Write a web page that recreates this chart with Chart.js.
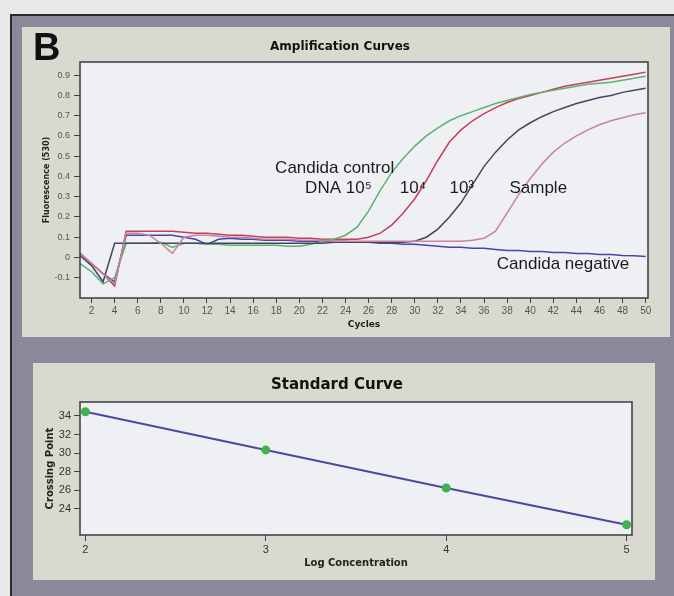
<!DOCTYPE html>
<html>
<head>
<meta charset="utf-8">
<script src="https://cdn.jsdelivr.net/npm/chart.js@4.4.1/dist/chart.umd.min.js"></script>
<style>
  body { margin: 0; background: #e9e9e9; width: 674px; height: 596px; overflow: hidden; position: relative; }
  #frame { position: absolute; left: 10px; top: 14px; width: 664px; height: 582px; background: #8d8899; border-left: 2px solid #2a2a2a; border-top: 2px solid #2a2a2a; box-sizing: border-box; }
  .panel { position: absolute; background: #d9d9d0; }
  #p1 { left: 22px; top: 27px; width: 648px; height: 310px; }
  #p2 { left: 33px; top: 363px; width: 622px; height: 217px; }
  #letter { position: absolute; left: 33px; top: 28px; font: bold 38px "Liberation Sans", Arial, sans-serif; line-height: 38px; color: #111; }
  canvas { position: absolute; left: 0; top: 0; }
</style>
</head>
<body>
<div id="frame"></div>
<div class="panel" id="p1"><canvas id="amp" width="648" height="310"></canvas></div>
<div class="panel" id="p2"><canvas id="std" width="622" height="217"></canvas></div>
<div id="letter">B</div>
<script>
// amplification curves (fluorescence 530 per cycle)
var cycles = [1,2,3,4,5,6,7,8,9,10,11,12,13,14,15,16,17,18,19,20,21,22,23,24,25,
              26,27,28,29,30,31,32,33,34,35,36,37,38,39,40,41,42,43,44,45,46,47,48,49,50];
var ctrl5 = [-0.03,-0.07,-0.13,-0.10,0.07,0.07,0.07,0.075,0.05,0.07,0.07,0.065,0.065,0.06,0.06,0.06,0.06,0.06,0.055,0.055,
             0.065,0.08,0.09,0.11,0.15,0.23,0.33,0.42,0.49,0.55,0.60,0.64,0.675,0.70,0.72,0.74,0.76,0.775,0.79,0.805,
             0.815,0.825,0.835,0.845,0.855,0.86,0.865,0.875,0.885,0.895];
var ctrl4 = [0.02,-0.03,-0.08,-0.14,0.13,0.13,0.13,0.13,0.13,0.125,0.12,0.12,0.115,0.11,0.11,0.105,0.10,0.10,0.10,0.095,
             0.095,0.09,0.09,0.09,0.09,0.10,0.12,0.16,0.22,0.29,0.38,0.48,0.57,0.63,0.675,0.71,0.74,0.765,0.785,0.80,
             0.815,0.83,0.845,0.855,0.865,0.875,0.885,0.895,0.905,0.915];
var ctrl3 = [0.01,-0.04,-0.12,0.07,0.07,0.07,0.07,0.07,0.07,0.07,0.07,0.07,0.07,0.07,0.07,0.07,0.07,0.07,0.07,0.07,
             0.07,0.07,0.075,0.075,0.075,0.075,0.075,0.075,0.075,0.08,0.10,0.14,0.20,0.27,0.36,0.45,0.52,0.58,0.63,0.665,
             0.695,0.72,0.74,0.76,0.775,0.79,0.80,0.815,0.825,0.835];
var sample = [0.02,-0.03,-0.08,-0.13,0.12,0.12,0.11,0.07,0.02,0.10,0.11,0.11,0.105,0.10,0.10,0.095,0.09,0.09,0.09,0.085,
              0.085,0.085,0.08,0.08,0.08,0.08,0.08,0.08,0.08,0.08,0.08,0.08,0.08,0.08,0.085,0.095,0.13,0.22,0.31,0.39,
              0.46,0.52,0.565,0.60,0.63,0.655,0.675,0.69,0.705,0.715];
var negative = [0.02,-0.03,-0.08,-0.12,0.11,0.11,0.11,0.11,0.11,0.10,0.09,0.065,0.09,0.095,0.09,0.09,0.085,0.085,0.085,0.08,
                0.08,0.08,0.08,0.08,0.075,0.075,0.07,0.07,0.065,0.065,0.06,0.055,0.05,0.05,0.045,0.045,0.04,0.035,0.035,0.03,
                0.03,0.025,0.025,0.02,0.02,0.015,0.015,0.01,0.008,0.005];
var cycleTicks = [2,4,6,8,10,12,14,16,18,20,22,24,26,28,30,32,34,36,38,40,42,44,46,48,50];
var fluorTicks = [-0.1,0,0.1,0.2,0.3,0.4,0.5,0.6,0.7,0.8,0.9];

// standard curve
var logConc = [2,3,4,5];
var crossPoint = [34.45,30.35,26.25,22.3];
var logTicks = [2,3,4,5];
var cpTicks = [24,26,28,30,32,34];

// labels written on the amplification plot
var noteText = ['Candida control','DNA 10\u2075','10\u2074','10\u00B3','Sample','Candida negative'];
var noteCycle = [17.9,20.5,28.7,33.0,38.2,37.1];
var noteValue = [0.418,0.318,0.318,0.318,0.318,-0.055];

function pts(ys, xs) {
    return ys.map(function (y, i) { return {x: xs[i], y: y}; });
}

// plot box: light background and a dark frame
var boxPlugin = {
    id: 'box',
    beforeDatasetsDraw: function (chart) {
        var a = chart.chartArea, c = chart.ctx;
        c.save();
        c.fillStyle = '#eef0f3';
        c.fillRect(a.left, a.top, a.right - a.left, a.bottom - a.top);
        c.restore();
    },
    afterDraw: function (chart) {
        var a = chart.chartArea, c = chart.ctx;
        c.save();
        c.strokeStyle = '#3a3a44';
        c.lineWidth = 1.5;
        c.strokeRect(a.left, a.top, a.right - a.left, a.bottom - a.top);
        c.restore();
    }
};

var notePlugin = {
    id: 'notes',
    afterDatasetsDraw: function (chart) {
        var c = chart.ctx, sx = chart.scales.x, sy = chart.scales.y;
        c.save();
        c.font = '17px "Liberation Sans", Arial, sans-serif';
        c.fillStyle = '#1c1c1c';
        c.textAlign = 'left';
        c.textBaseline = 'alphabetic';
        for (var i = 0; i < noteText.length; i++) {
            c.fillText(noteText[i], sx.getPixelForValue(noteCycle[i]), sy.getPixelForValue(noteValue[i]));
        }
        c.restore();
    }
};

function line(label, ys, color) {
    return {
        label: label,
        data: pts(ys, cycles),
        borderColor: color,
        borderWidth: 1.5,
        pointRadius: 0,
        tension: 0
    };
}

var ampChart = new Chart(document.getElementById('amp'), {
    type: 'line',
    data: {
        datasets: [
            line('Sample', sample, '#c9839f'),
            line('10^3', ctrl3, '#454562'),
            line('10^5', ctrl5, '#5cb46c'),
            line('10^4', ctrl4, '#c63e5c'),
            line('Candida negative', negative, '#4646a6')
        ]
    },
    options: {
        responsive: false,
        animation: false,
        layout: { padding: { left: 10, right: 22, top: 13, bottom: 0 } },
        plugins: {
            legend: { display: false },
            tooltip: { enabled: false },
            title: {
                display: true,
                text: 'Amplification Curves',
                color: '#111',
                font: { family: 'DejaVu Sans', size: 12, weight: 'bold' },
                padding: { top: 0, bottom: 7.6 }
            }
        },
        scales: {
            x: {
                type: 'linear',
                min: 1,
                max: 50.2,
                afterBuildTicks: function (s) { s.ticks = cycleTicks.map(function (v) { return {value: v}; }); },
                afterFit: function (s) { s.height = 39; },
                ticks: { color: '#555', font: { family: 'Liberation Sans', size: 10 }, padding: 2, maxRotation: 0, autoSkip: false },
                grid: { drawOnChartArea: false, drawTicks: true, tickLength: 5, color: '#444' },
                border: { display: false },
                title: { display: true, text: 'Cycles', color: '#222', font: { family: 'DejaVu Sans', size: 9, weight: 'bold' }, padding: { top: 0, bottom: 6.6 } }
            },
            y: {
                min: -0.2,
                max: 0.965,
                afterBuildTicks: function (s) { s.ticks = fluorTicks.map(function (v) { return {value: v}; }); },
                afterFit: function (s) { s.width = 48; },
                ticks: {
                    color: '#555',
                    font: { family: 'Liberation Sans', size: 9 },
                    padding: 4,
                    callback: function (v) { return String(Math.round(v * 10) / 10); }
                },
                grid: { drawOnChartArea: false, drawTicks: true, tickLength: 6, color: '#444' },
                border: { display: false },
                title: { display: true, text: 'Fluorescence (530)', color: '#222', font: { family: 'DejaVu Sans', size: 8, weight: 'bold' }, padding: { top: 10, bottom: 0 } }
            }
        }
    },
    plugins: [boxPlugin, notePlugin]
});

var stdChart = new Chart(document.getElementById('std'), {
    type: 'line',
    data: {
        datasets: [{
            label: 'Standard',
            data: pts(crossPoint, logConc),
            borderColor: '#4a4aa0',
            borderWidth: 2,
            pointRadius: 3.5,
            pointBackgroundColor: '#3fb34f',
            pointBorderColor: '#3fb34f',
            tension: 0
        }]
    },
    options: {
        responsive: false,
        animation: false,
        layout: { padding: { left: 9, right: 23, top: 13, bottom: 0 } },
        plugins: {
            legend: { display: false },
            tooltip: { enabled: false },
            title: {
                display: true,
                text: 'Standard Curve',
                color: '#111',
                font: { family: 'DejaVu Sans', size: 15, weight: 'bold' },
                padding: { top: 0, bottom: 8 }
            }
        },
        scales: {
            x: {
                type: 'linear',
                min: 1.97,
                max: 5.03,
                afterBuildTicks: function (s) { s.ticks = logTicks.map(function (v) { return {value: v}; }); },
                afterFit: function (s) { s.height = 45; },
                ticks: { color: '#333', font: { family: 'Liberation Sans', size: 11 }, padding: 2, maxRotation: 0 },
                grid: { drawOnChartArea: false, drawTicks: true, tickLength: 6, color: '#444' },
                border: { display: false },
                title: { display: true, text: 'Log Concentration', color: '#222', font: { family: 'DejaVu Sans', size: 10, weight: 'bold' }, padding: { top: 0, bottom: 11 } }
            },
            y: {
                min: 21.2,
                max: 35.5,
                afterBuildTicks: function (s) { s.ticks = cpTicks.map(function (v) { return {value: v}; }); },
                afterFit: function (s) { s.width = 38; },
                ticks: { color: '#333', font: { family: 'Liberation Sans', size: 11 }, padding: 3 },
                grid: { drawOnChartArea: false, drawTicks: true, tickLength: 6, color: '#444' },
                border: { display: false },
                title: { display: true, text: 'Crossing Point', color: '#222', font: { family: 'DejaVu Sans', size: 10, weight: 'bold' }, padding: { top: 2, bottom: 0 } }
            }
        }
    },
    plugins: [boxPlugin]
});
</script>
</body>
</html>
